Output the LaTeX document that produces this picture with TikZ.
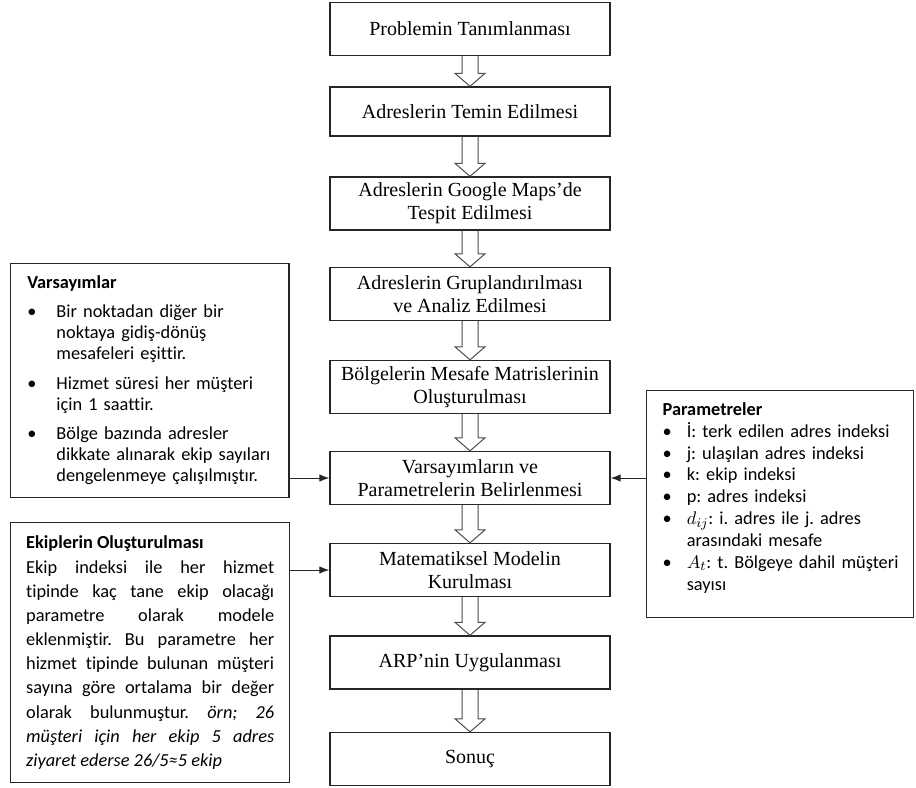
\documentclass[tikz,border=0pt]{standalone}
\usepackage{fontspec}
\setmainfont{Liberation Serif}
\newfontfamily\calibri[Ligatures=NoCommon]{Carlito}
\usepackage{tikz}
\usetikzlibrary{positioning, arrows.meta, calc}
\frenchspacing

\tikzset{
  stepbox/.style={draw=black!85, line width=0.8pt, minimum width=168pt, minimum height=31.8pt,
    inner sep=2pt, align=center, font=\fontsize{12}{13.8}\selectfont},
  sidebox/.style={draw=black!85, line width=0.8pt, anchor=north west, inner xsep=10pt,
    inner ysep=4pt, align=left, font=\calibri\fontsize{11}{12.6}\selectfont},
  hollow/.style={draw=black!70, line width=0.6pt, line join=miter},
  conn/.style={draw=black!85, line width=0.6pt, -{Latex[length=6pt,width=4.5pt]}}
}

\begin{document}
\begin{tikzpicture}[x=0.6pt, y=-0.6pt]
\useasboundingbox (0,0) rectangle (916,787);
% main steps
\node[stepbox] (prob) at (470,29) {Problemin Tanımlanması};
\node[stepbox, minimum height=29.4pt] (temin) at (470,111.5) {Adreslerin Temin Edilmesi};
\node[stepbox] (maps) at (470,203.5) {Adreslerin Google Maps’de\\Tespit Edilmesi};
\node[stepbox] (grup) at (470,294) {Adreslerin Gruplandırılması\\ve Analiz Edilmesi};
\node[stepbox] (matris) at (470,387) {Bölgelerin Mesafe Matrislerinin\\Oluşturulması};
\node[stepbox] (belir) at (470,478) {Varsayımların ve\\Parametrelerin Belirlenmesi};
\node[stepbox] (model) at (470,570) {Matematiksel Modelin\\Kurulması};
\node[stepbox] (uygula) at (470,662.5) {ARP’nin Uygulanması};
\node[stepbox] (sonuc) at (470,759) {Sonuç};

% hollow arrows between steps
\foreach \a/\b in {prob/temin, temin/maps, maps/grup, grup/matris, matris/belir,
                   belir/model, model/uygula, uygula/sonuc}
  \draw[hollow] ($(\a.south)+(-8,0)$) -- ($(\b.north)+(-8,-13)$) -- ($(\b.north)+(-15,-13)$)
    -- (\b.north) -- ($(\b.north)+(15,-13)$) -- ($(\b.north)+(8,-13)$) -- ($(\a.south)+(8,0)$);

% side boxes
\node[sidebox, text width=147pt, minimum height=140.4pt] (varsayim) at (10,263) {%
\begin{tabular}{@{}l@{\hspace{12pt}}l@{}}
\multicolumn{2}{@{}l}{\textbf{Varsayımlar}}\\[5pt]
\textbullet & Bir noktadan diğer bir\\
 & noktaya gidiş-dönüş\\
 & mesafeleri eşittir.\\[5pt]
\textbullet & Hizmet süresi her müşteri\\
 & için 1 saattir.\\[5pt]
\textbullet & Bölge bazında adresler\\
 & dikkate alınarak ekip sayıları\\
 & dengelenmeye çalışılmıştır.
\end{tabular}};

\node[sidebox, text width=148.8pt, inner xsep=9.3pt, minimum height=156pt, align=justify,
  font=\calibri\fontsize{11}{14.5}\selectfont] (ekip) at (10,522) {%
\textbf{Ekiplerin Oluşturulması}\\
Ekip indeksi ile her hizmet\linebreak tipinde kaç tane ekip olacağı\linebreak
parametre olarak modele\linebreak eklenmiştir. Bu parametre her\linebreak
hizmet tipinde bulunan müşteri\linebreak sayına göre ortalama bir değer\linebreak
olarak bulunmuştur. \textit{örn; 26\linebreak müşteri için her ekip 5 adres\linebreak
ziyaret ederse 26/5≈5 ekip}};

\node[sidebox, text width=141pt, inner xsep=9.6pt, minimum height=136.2pt,
  font=\calibri\fontsize{11}{13.1}\selectfont] (param) at (646,390) {%
\begin{tabular}{@{}l@{\hspace{9pt}}l@{}}
\multicolumn{2}{@{}l}{\textbf{Parametreler}}\\
\textbullet & İ: terk edilen adres indeksi\\
\textbullet & j: ulaşılan adres indeksi\\
\textbullet & k: ekip indeksi\\
\textbullet & p: adres indeksi\\
\textbullet & $d_{ij}$: i. adres ile j. adres\\
 & arasındaki mesafe\\
\textbullet & $A_t$: t. Bölgeye dahil müşteri\\
 & sayısı
\end{tabular}\par\vspace{6pt}\mbox{}};

% connectors into the steps
\draw[conn] (varsayim.east |- belir.west) -- (belir.west);
\draw[conn] (param.west |- belir.east) -- (belir.east);
\draw[conn] (ekip.east |- model.west) -- (model.west);
\end{tikzpicture}
\end{document}
